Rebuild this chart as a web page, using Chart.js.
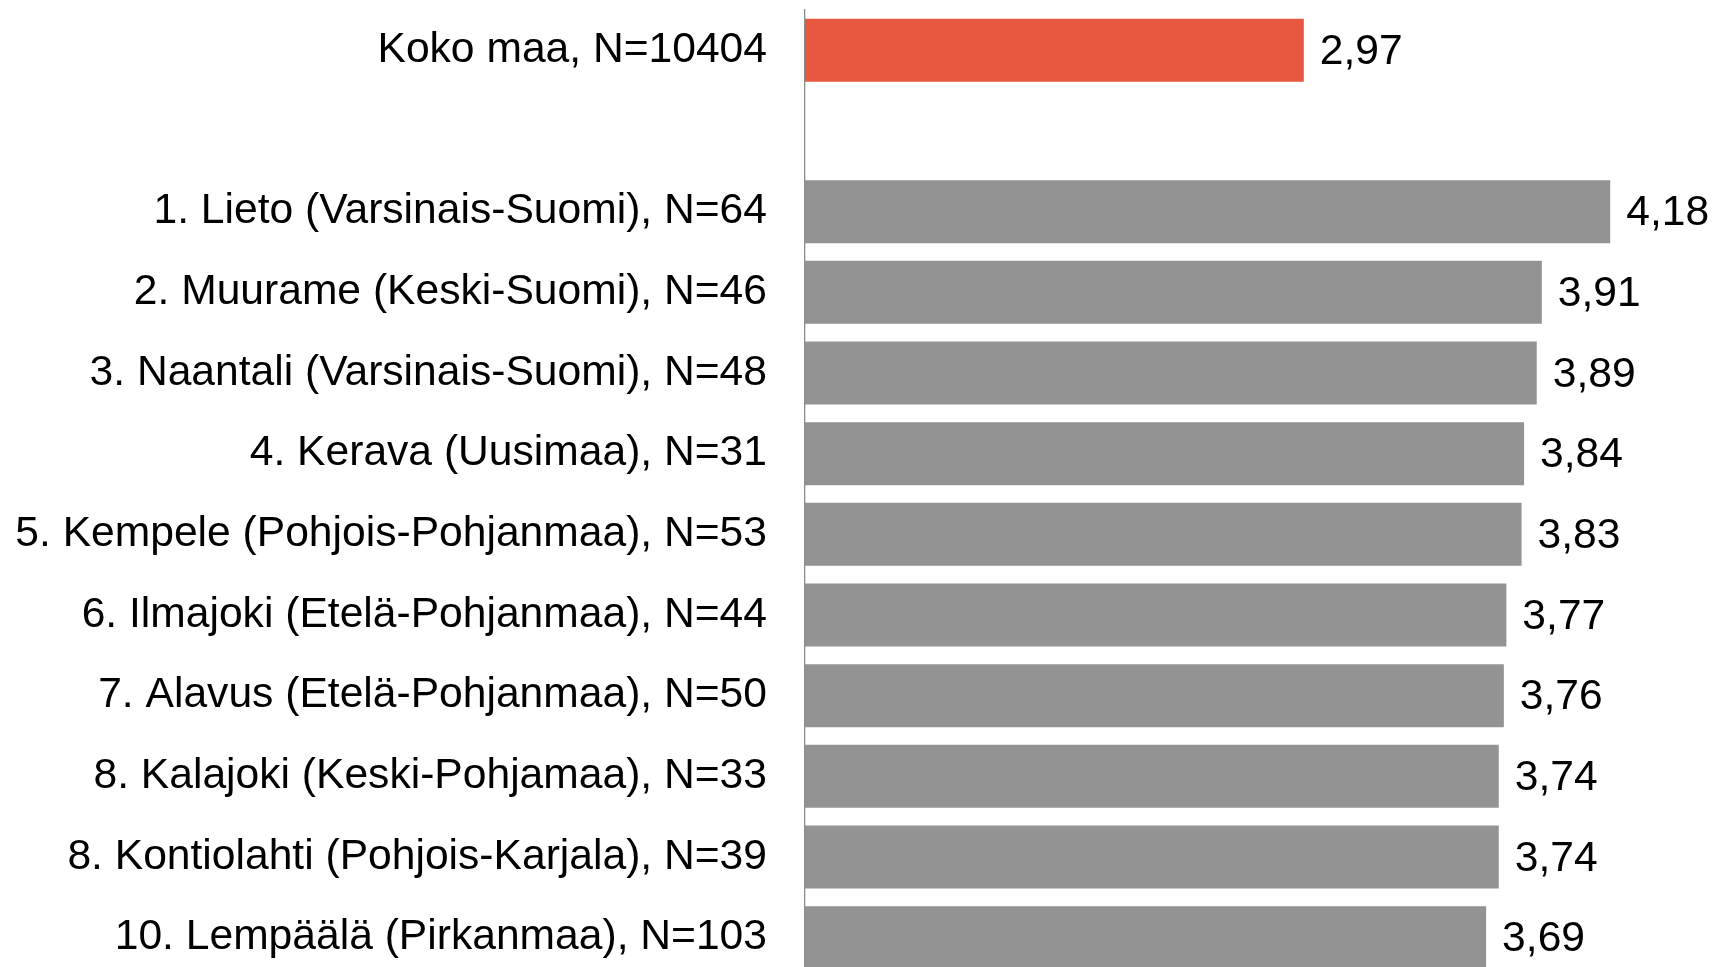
<!DOCTYPE html>
<html>
<head>
<meta charset="utf-8">
<script src="https://cdn.jsdelivr.net/npm/chart.js@4"></script>
<style>
  html, body { margin: 0; padding: 0; background: #fff; overflow: hidden; }
  canvas { display: block; }
</style>
</head>
<body>
<canvas id="rankChart" width="1714" height="978"></canvas>
<script>
// kunnat + koko maa, tyhjä rivi erottaa
var categories = [
  'Koko maa, N=10404',
  '',
  '1. Lieto (Varsinais-Suomi), N=64',
  '2. Muurame (Keski-Suomi), N=46',
  '3. Naantali (Varsinais-Suomi), N=48',
  '4. Kerava (Uusimaa), N=31',
  '5. Kempele (Pohjois-Pohjanmaa), N=53',
  '6. Ilmajoki (Etelä-Pohjanmaa), N=44',
  '7. Alavus (Etelä-Pohjanmaa), N=50',
  '8. Kalajoki (Keski-Pohjamaa), N=33',
  '8. Kontiolahti (Pohjois-Karjala), N=39',
  '10. Lempäälä (Pirkanmaa), N=103'
];
var values = [2.97, null, 4.18, 3.91, 3.89, 3.84, 3.83, 3.77, 3.76, 3.74, 3.74, 3.69];
var highlight = [true, false, false, false, false, false, false, false, false, false, false, false];

var RED = '#E8573F';
var GRAY = '#939393';
var FONT = '"Liberation Sans", Arial, sans-serif';

// arvot palkkien perään, pilkku desimaalierottimena
var valueLabels = {
  id: 'valueLabels',
  afterDatasetsDraw: function(chart) {
    var ctx = chart.ctx;
    var meta = chart.getDatasetMeta(0);
    ctx.save();
    ctx.font = '42.6px ' + FONT;
    ctx.fillStyle = '#000';
    ctx.textAlign = 'left';
    ctx.textBaseline = 'middle';
    meta.data.forEach(function(bar, i) {
      var v = values[i];
      if (v === null) return;
      ctx.fillText(v.toFixed(2).replace('.', ','), bar.x + 16, bar.y + 2);
    });
    ctx.restore();
  }
};

new Chart(document.getElementById('rankChart'), {
  type: 'bar',
  data: {
    labels: categories,
    datasets: [{
      data: values,
      backgroundColor: highlight.map(h => h ? RED : GRAY),
      borderWidth: 0,
      categoryPercentage: 1,
      barPercentage: 0.78
    }]
  },
  options: {
    indexAxis: 'y',
    responsive: false,
    animation: false,
    layout: { padding: { top: 10, right: 0, bottom: 0, left: 0 } },
    plugins: { legend: { display: false }, tooltip: { enabled: false } },
    scales: {
      x: { display: false, min: 1, max: 4.59 },
      y: {
        grid: { display: false, drawTicks: false },
        border: { display: true, color: '#8c8c8c', width: 1.3 },
        ticks: { color: '#000', padding: 38, font: { family: FONT, size: 42.6 } },
        afterFit: function(s) {
          s.width = 805;
          // ei ylimääräistä tilaa ylä- ja alareunaan
          s.paddingTop = 0;
          s.paddingBottom = 0;
        }
      }
    }
  },
  plugins: [valueLabels]
});
</script>
</body>
</html>
